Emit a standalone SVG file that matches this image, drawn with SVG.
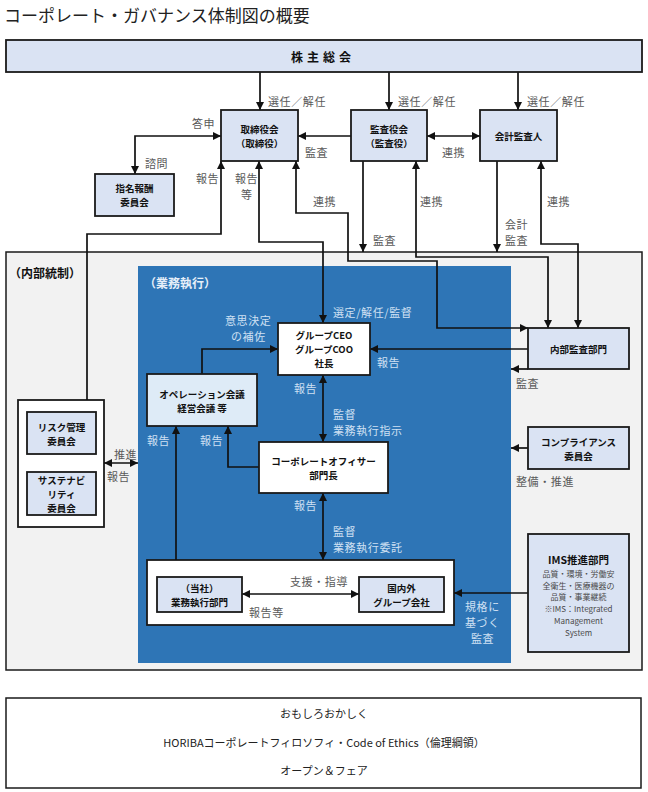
<svg xmlns="http://www.w3.org/2000/svg" width="648" height="792" viewBox="0 0 648 792">
<style>
text{font-family:"Noto Sans CJK JP","Noto Sans",sans-serif;dominant-baseline:central}
.box{fill:#dae3f3;stroke:#1a1a1a;stroke-width:1.8}
.wbox{fill:#ffffff;stroke:#1a1a1a;stroke-width:1.8}
.bt{font-size:9.5px;font-weight:700;fill:#111;text-anchor:middle}
.lb{font-size:11px;fill:#595959;letter-spacing:0.6px}
.ll{font-size:11px;fill:#cfe0f3;letter-spacing:0.6px}
.sm{font-size:8px;fill:#4a4a4a;text-anchor:middle;font-weight:400}
.cn path{fill:none;stroke:#111;stroke-width:1.7}
.ar{marker-end:url(#ah)}
.ab{marker-start:url(#ah);marker-end:url(#ah)}
</style>
<defs>
<marker id="ah" viewBox="0 0 10 10" refX="10" refY="5" markerWidth="8" markerHeight="8" markerUnits="userSpaceOnUse" orient="auto-start-reverse"><path d="M0,0 L10,5 L0,10 z" fill="#111"/></marker>
</defs>
<rect width="648" height="792" fill="#ffffff"/>
<text x="4" y="14" style="font-size:17px;fill:#222">コーポレート・ガバナンス体制図の概要</text>

<g id="internal-control">
<rect x="6" y="252" width="636" height="418" fill="#f2f2f2" stroke="#1a1a1a" stroke-width="1.5"/>
<text x="9" y="272" style="font-size:12px;font-weight:700;fill:#111">（内部統制）</text>
</g>
<g id="business-execution">
<rect x="138" y="266" width="373" height="397" fill="#2e75b6"/>
<text x="144" y="282" style="font-size:12px;font-weight:700;fill:#e6eff9">（業務執行）</text>
</g>
<g id="committees">
<rect class="wbox" x="18" y="400" width="86" height="127"/>
</g>
<g id="execution-units">
<rect class="wbox" x="147" y="560" width="307" height="65"/>
</g>

<g id="connectors" class="cn">
<path class="ar" d="M260,72 V110"/>
<path class="ar" d="M389,72 V110"/>
<path class="ar" d="M518,72 V110"/>
<path class="ar" d="M351,136 H298"/>
<path class="ab" d="M427,136 H480"/>
<path class="ab" d="M221,136 H135 V174"/>
<path class="ar" d="M87,400 V234 H221 V161"/>
<path class="ab" d="M323,323 V242 H259 V161"/>
<path class="ab" d="M296,161 V213 H348 V261 H437 V328 H528"/>
<path class="ar" d="M363,161 V252"/>
<path class="ab" d="M416,161 V257 H548 V328"/>
<path class="ar" d="M497,161 V252"/>
<path class="ab" d="M541,161 V244 H578 V328"/>
<path class="ar" d="M202,374 V349 H278"/>
<path class="ab" d="M323,375 V442"/>
<path class="ar" d="M528,349 H370"/>
<path class="ar" d="M528,369 H511"/>
<path class="ar" d="M259,467 H228 V426"/>
<path class="ar" d="M176,560 V426"/>
<path class="ab" d="M323,493 V560"/>
<path class="ab" d="M242,594 H359"/>
<path class="ar" d="M528,593 H454"/>
<path class="ar" d="M528,448 H511"/>
<path class="ab" d="M104,463 H138"/>
</g>

<g id="labels">
<text class="lb" x="268" y="101">選任／解任</text>
<text class="lb" x="398" y="101">選任／解任</text>
<text class="lb" x="527" y="101">選任／解任</text>
<text class="lb" x="305" y="152">監査</text>
<text class="lb" x="442" y="152">連携</text>
<text class="lb" x="192" y="123">答申</text>
<text class="lb" x="145" y="163">諮問</text>
<text class="lb" x="196" y="178">報告</text>
<text class="lb" x="235" y="178">報告<tspan x="241" dy="16">等</tspan></text>
<text class="lb" x="313" y="201">連携</text>
<text class="lb" x="420" y="201">連携</text>
<text class="lb" x="547" y="201">連携</text>
<text class="lb" x="373" y="240">監査</text>
<text class="lb" x="505" y="224">会計<tspan x="505" dy="16">監査</tspan></text>
<text class="ll" x="333" y="312">選定/解任/監督</text>
<text class="ll" x="225" y="320">意思決定<tspan x="231" dy="16">の補佐</tspan></text>
<text class="ll" x="294" y="388">報告</text>
<text class="ll" x="333" y="414">監督<tspan x="333" dy="16">業務執行指示</tspan></text>
<text class="ll" x="377" y="362">報告</text>
<text class="lb" x="516" y="383">監査</text>
<text class="lb" x="516" y="481">整備・推進</text>
<text class="ll" x="147" y="440">報告</text>
<text class="ll" x="200" y="440">報告</text>
<text class="lb" x="114" y="454">推進</text>
<text class="lb" x="107" y="476">報告</text>
<text class="ll" x="294" y="505">報告</text>
<text class="ll" x="333" y="531">監督<tspan x="333" dy="16">業務執行委託</tspan></text>
<text class="lb" x="290" y="581">支援・指導</text>
<text class="lb" x="249" y="612">報告等</text>
<text class="ll" x="465" y="606">規格に<tspan x="465" dy="16">基づく</tspan><tspan x="471" dy="16">監査</tspan></text>
</g>

<g id="shareholders">
<rect class="box" x="6" y="40" width="636" height="32"/>
<text class="bt" x="323" y="56" style="font-size:12px;letter-spacing:4px">株主総会</text>
</g>
<g id="board">
<rect class="box" x="221" y="110" width="77" height="51"/>
<text class="bt" x="259.5" y="128.5">取締役会<tspan x="259.5" dy="14">（取締役）</tspan></text>
</g>
<g id="audit-board">
<rect class="box" x="351" y="110" width="76" height="51"/>
<text class="bt" x="389" y="128.5">監査役会<tspan x="389" dy="14">（監査役）</tspan></text>
</g>
<g id="accounting-auditor">
<rect class="box" x="480" y="110" width="77" height="51"/>
<text class="bt" x="518.5" y="136">会計監査人</text>
</g>
<g id="nomination">
<rect class="box" x="95" y="174" width="79" height="42"/>
<text class="bt" x="134.5" y="188">指名報酬<tspan x="134.5" dy="14">委員会</tspan></text>
</g>
<g id="ceo">
<rect class="wbox" x="278" y="323" width="92" height="52"/>
<text class="bt" x="324" y="334.5">グループCEO<tspan x="324" dy="14">グループCOO</tspan><tspan x="324" dy="14">社長</tspan></text>
</g>
<g id="operation-meeting">
<rect x="147" y="374" width="110" height="52" fill="#deebf7" stroke="#1a1a1a" stroke-width="1.8"/>
<text class="bt" x="202" y="393.5">オペレーション会議<tspan x="202" dy="14">経営会議 等</tspan></text>
</g>
<g id="internal-audit">
<rect class="box" x="528" y="328" width="101" height="41"/>
<text class="bt" x="578.5" y="349">内部監査部門</text>
</g>
<g id="corporate-officer">
<rect class="wbox" x="259" y="442" width="129" height="51"/>
<text class="bt" x="323.5" y="461">コーポレートオフィサー<tspan x="323.5" dy="14">部門長</tspan></text>
</g>
<g id="compliance">
<rect class="box" x="528" y="427" width="101" height="42"/>
<text class="bt" x="578.5" y="442">コンプライアンス<tspan x="578.5" dy="14">委員会</tspan></text>
</g>
<g id="risk">
<rect class="box" x="27" y="412" width="69" height="42"/>
<text class="bt" x="61.5" y="427">リスク管理<tspan x="61.5" dy="14">委員会</tspan></text>
</g>
<g id="sustainability">
<rect class="box" x="27" y="472" width="69" height="43"/>
<text class="bt" x="61.5" y="479.5">サステナビ<tspan x="61.5" dy="14">リティ</tspan><tspan x="61.5" dy="14">委員会</tspan></text>
</g>
<g id="own-divisions">
<rect class="box" x="157" y="577" width="85" height="35"/>
<text class="bt" x="199.5" y="588">（当社）<tspan x="199.5" dy="14">業務執行部門</tspan></text>
</g>
<g id="group-companies">
<rect class="box" x="359" y="577" width="85" height="35"/>
<text class="bt" x="401.5" y="588">国内外<tspan x="401.5" dy="14">グループ会社</tspan></text>
</g>
<g id="ims">
<rect class="box" x="528" y="534" width="101" height="118"/>
<text class="bt" x="578.5" y="559" style="font-size:10.5px">IMS推進部門</text>
<text class="sm" x="578.5" y="573">品質・環境・労働安<tspan x="578.5" dy="11.7">全衛生・医療機器の</tspan><tspan x="578.5" dy="11.7">品質・事業継続</tspan><tspan x="578.5" dy="11.7">※IMS：Integrated</tspan><tspan x="578.5" dy="11.7">Management</tspan><tspan x="578.5" dy="11.7">System</tspan></text>
</g>
<g id="philosophy">
<rect x="6" y="698" width="635" height="90" fill="#ffffff" stroke="#1a1a1a" stroke-width="1.5"/>
<text x="324" y="713" style="font-size:11px;fill:#222;text-anchor:middle">おもしろおかしく</text>
<text x="324" y="742" style="font-size:11px;fill:#222;text-anchor:middle">HORIBAコーポレートフィロソフィ・Code of Ethics（倫理綱領）</text>
<text x="324" y="770" style="font-size:11px;fill:#222;text-anchor:middle">オープン＆フェア</text>
</g>
</svg>
